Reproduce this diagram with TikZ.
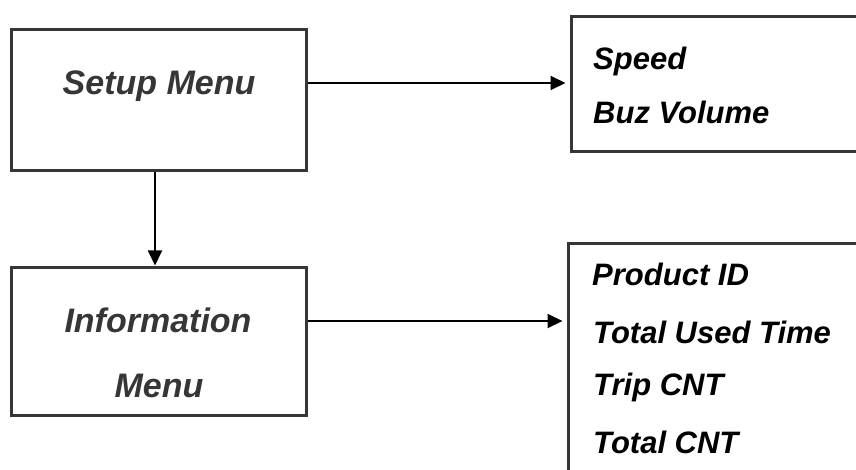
\documentclass[tikz,border=0pt]{standalone}
\usepackage{fontspec}
\setmainfont{Liberation Sans}
\usetikzlibrary{arrows.meta}
\definecolor{boxgray}{HTML}{363636}
\begin{document}
\begin{tikzpicture}[x=1pt,y=-1pt,
  menubox/.style={draw=boxgray,line width=3pt,minimum width=295pt,inner sep=0pt},
  listbox/.style={draw=boxgray,line width=3pt,inner sep=0pt},
  lefttxt/.style={font=\fontsize{34}{40}\selectfont\bfseries\itshape,text=boxgray,anchor=base,inner sep=0pt},
  righttxt/.style={font=\fontsize{31}{36}\selectfont\bfseries\itshape,text=black,anchor=base west,inner sep=0pt},
  arr/.style={draw=black,line width=2pt,-{Triangle[length=15pt,width=14pt]}}]
\useasboundingbox (0,0) rectangle (856,470);
\clip (0,0) rectangle (856,470);
\fill[white] (0,0) rectangle (856,470);
% boxes
\node[menubox,minimum height=141pt] (setup) at (158.5,100.5) {};
\node[menubox,minimum height=148pt] (info) at (158.5,341) {};
\node[listbox,minimum width=329pt,minimum height=135pt] (spd) at (735.5,84.5) {};
\node[listbox,minimum width=332pt,minimum height=276pt] (prod) at (734,382) {};
% texts
\node[lefttxt] (tsetup) at (159,95) {Setup Menu};
\node[lefttxt] (tinfo1) at (158,332) {Information};
\node[lefttxt] (tinfo2) at (159,397) {Menu};
\node[righttxt] (t1) at (593,70) {Speed};
\node[righttxt] (t2) at (593,124) {Buz Volume};
\node[righttxt] (t3) at (592,285) {Product ID};
\node[righttxt] (t4) at (593,343) {Total Used Time};
\node[righttxt] (t5) at (593,395) {Trip CNT};
\node[righttxt] (t6) at (593,453) {Total CNT};
% connectors
\draw[arr,shorten >=4pt] (setup.east |- 0,83) -- (spd.west |- 0,83);
\draw[arr,shorten >=4pt] (info.east |- 0,321) -- (prod.west |- 0,321);
\draw[arr] (setup.south -| 155,0) -- (info.north -| 155,0);
\end{tikzpicture}
\end{document}
